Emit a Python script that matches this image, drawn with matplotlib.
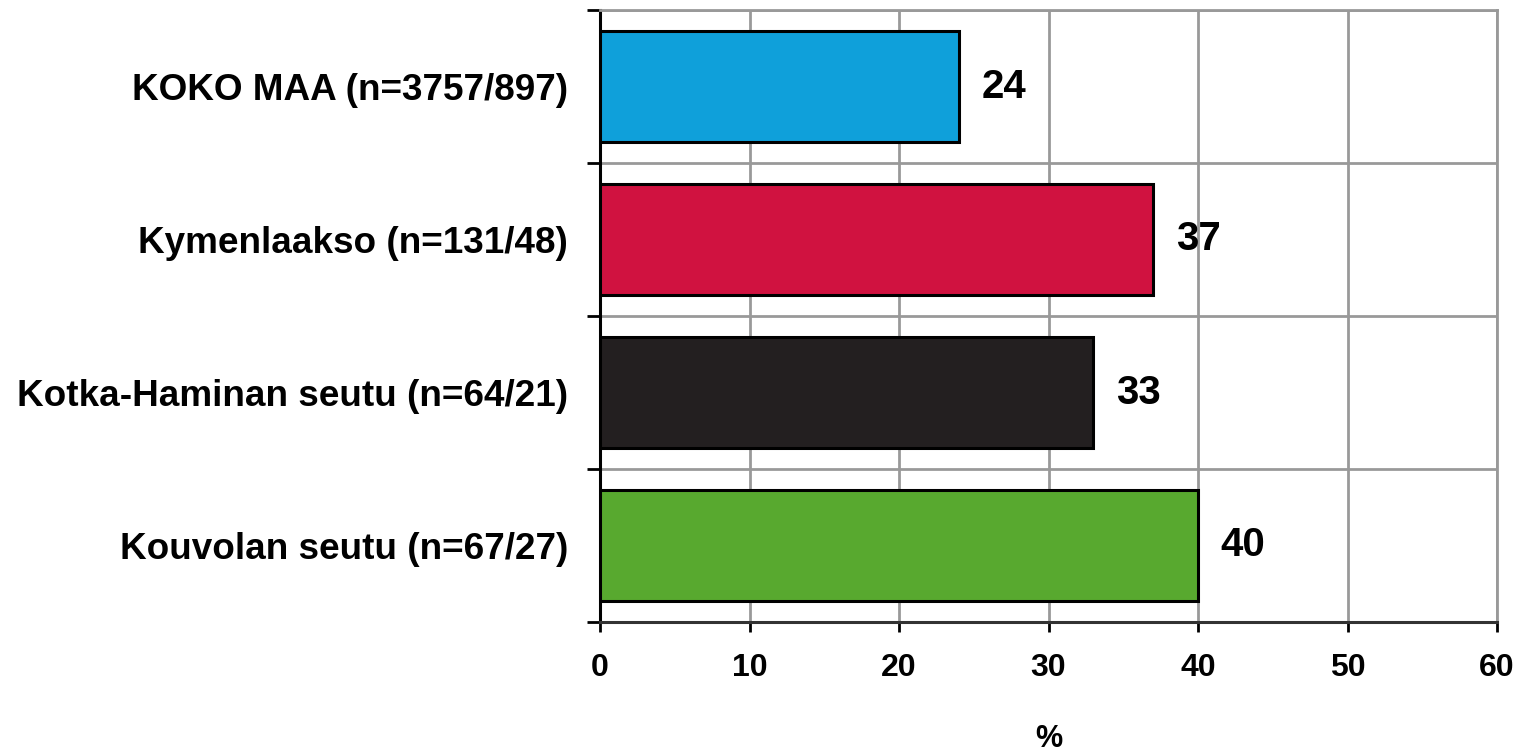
import matplotlib
matplotlib.use("Agg")
import matplotlib.pyplot as plt
from matplotlib.ticker import FixedLocator

plt.rcParams['font.family'] = ['Liberation Sans', 'DejaVu Sans']
plt.rcParams['font.weight'] = 'bold'

categories = ["KOKO MAA (n=3757/897)", "Kymenlaakso (n=131/48)",
              "Kotka-Haminan seutu (n=64/21)", "Kouvolan seutu (n=67/27)"]
values = [24, 37, 33, 40]
colors = ["#0FA0DA", "#D01240", "#231F20", "#58A92F"]
xticks = [0, 10, 20, 30, 40, 50, 60]

fig = plt.figure(figsize=(15.28, 7.54), dpi=100)
ax = fig.add_axes([600/1528, 1-622/754, 897/1528, 612/754])

ypos = list(range(len(categories)))
h = 0.72
ax.barh([y + 0.012 for y in ypos], values, height=h, color=colors, edgecolor='none', zorder=2, left=0.12)
ax.barh(ypos, values, height=h, color=colors, edgecolor='black', linewidth=2.2, zorder=3)

for y, v in zip(ypos, values):
    ax.text(v + 1.5, y, f"{v}", va='center', ha='left', fontsize=29, fontweight='bold', zorder=4)

ax.set_xlim(0, 60)
ax.set_ylim(len(categories) - 0.5, -0.5)
ax.set_xticks(xticks)
ax.set_xticklabels([str(t) for t in xticks], fontsize=23, fontweight='bold')
ax.set_yticks(ypos)
ax.set_yticklabels(categories, fontsize=26.6, fontweight='bold')
ax.yaxis.set_minor_locator(FixedLocator([i - 0.5 for i in range(len(categories) + 1)]))
ax.tick_params(axis='y', which='major', length=0, pad=23)
ax.tick_params(axis='y', which='minor', length=9.5, width=2, direction='out', color='black')
ax.tick_params(axis='x', which='major', length=7, width=2, direction='out', color='black', pad=15)

ax.grid(axis='x', color='#999999', linewidth=2, zorder=0)
ax.grid(axis='y', which='minor', color='#999999', linewidth=2, zorder=0)
ax.set_axisbelow(True)

for s in ['top', 'right']:
    ax.spines[s].set_color('#999999')
    ax.spines[s].set_linewidth(2)
ax.spines['left'].set_color('black')
ax.spines['left'].set_linewidth(2.2)
ax.spines['bottom'].set_color('#333333')
ax.spines['bottom'].set_linewidth(2.2)

ax.set_xlabel('%', fontsize=22, fontweight='bold', labelpad=30)

fig.savefig('out.png', dpi=100)
